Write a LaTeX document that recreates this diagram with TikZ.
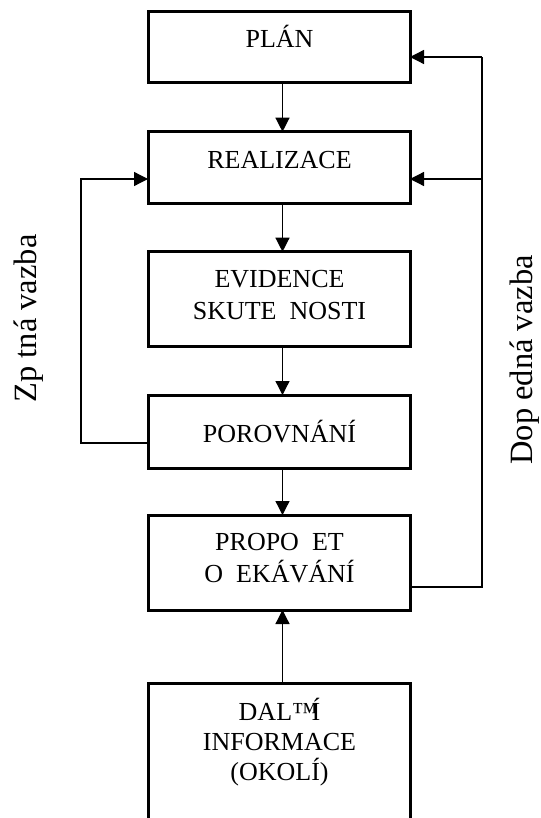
\documentclass[tikz,border=0pt]{standalone}
\usepackage{fontspec}
\setmainfont{Liberation Serif}
\usetikzlibrary{arrows.meta}
\tikzset{
  box/.style={draw, line width=3pt, minimum width=262pt, inner sep=0pt, outer sep=0pt},
  txt/.style={anchor=base, inner sep=0pt, font=\fontsize{26}{31}\selectfont},
  side/.style={anchor=base, rotate=90, inner sep=0pt, font=\fontsize{32.5}{38}\selectfont},
  conn/.style={line width=1.3pt},
  arr/.style={conn, -{Triangle[width=14pt,length=14pt]}}
}
\begin{document}
\begin{tikzpicture}[x=1pt,y=-1pt]
\clip (0,0) rectangle (540,818);
\useasboundingbox (0,0) rectangle (540,818);
% boxes
\node[box, minimum height=71pt] (plan) at (279,47.2) {};
\node[box, minimum height=71.6pt] (real) at (279,167.5) {};
\node[box, minimum height=95pt] (evid) at (279,299.2) {};
\node[box, minimum height=73pt] (por) at (279,431.5) {};
\node[box, minimum height=95pt] (prop) at (279,562.5) {};
\node[box, minimum height=180pt] (dal) at (279,773) {};
% texts
\node[txt] (plan-t) at (279.5,48) {PLÁN};
\node[txt] (real-t) at (279.5,169) {REALIZACE};
\node[txt] (evid-t1) at (279.5,287) {EVIDENCE};
\node[txt] (evid-t2) at (279.5,319) {SKUTE~~NOSTI};
\node[txt] (por-t) at (279.5,442) {POROVNÁNÍ};
\node[txt] (prop-t1) at (279.5,550) {PROPO~~ET};
\node[txt] (prop-t2) at (279.5,582) {O~~EKÁVÁNÍ};
\node[txt] (dal-t1) at (279.5,720) {DAL™\kern-6pt Í};
\node[txt] (dal-t2) at (279.5,750) {INFORMACE};
\node[txt] (dal-t3) at (279.5,780) {(OKOLÍ)};
% side labels
\node[side] (zpet) at (36,318.5) {Zp tná vazba};
\node[side] (dopr) at (532,360) {Dop edná vazba};
% main flow
\draw[arr] ([xshift=3.5pt]plan.south) -- ([xshift=3.5pt]real.north);
\draw[arr] ([xshift=3.5pt]real.south) -- ([xshift=3.5pt]evid.north);
\draw[arr] ([xshift=3.5pt]evid.south) -- ([xshift=3.5pt]por.north);
\draw[arr] ([xshift=3.5pt]por.south) -- ([xshift=3.5pt]prop.north);
\draw[arr] ([xshift=3.5pt]dal.north) -- ([xshift=3.5pt]prop.south);
% feedback (left)
\coordinate (lt) at (81,179);
\draw[arr] ([yshift=-11.5pt]por.west) -| (lt) -- (lt -| real.west);
% feedforward (right)
\coordinate (rt) at (482,57);
\coordinate (rm) at (482,179);
\draw[conn] ([yshift=-24.5pt]prop.east) -| (rt);
\draw[arr] (rt) -- (rt -| plan.east);
\draw[arr] (rm) -- (rm -| real.east);
\end{tikzpicture}
\end{document}
